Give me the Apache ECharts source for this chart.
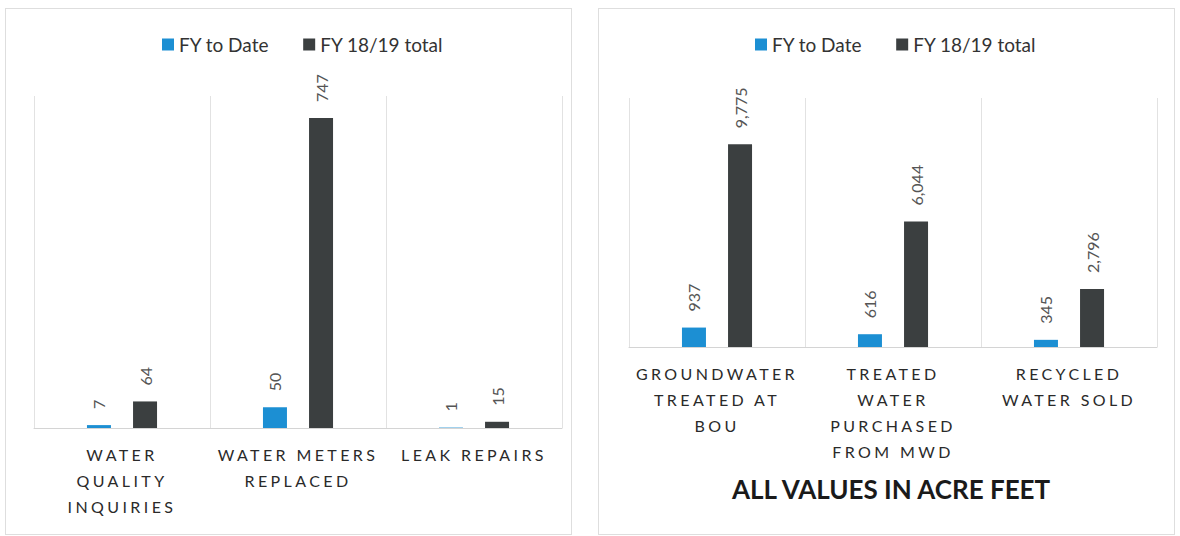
<!DOCTYPE html>
<html>
<head>
<meta charset="utf-8">
<script src="https://cdn.jsdelivr.net/npm/echarts@6/dist/echarts.min.js"></script>
<style>
  body { margin: 0; background: #fff; width: 1180px; height: 536px; position: relative; overflow: hidden; }
  .panel { position: absolute; border: 1px solid #dedede; box-sizing: border-box; }
  #left { left: 5px; top: 8px; width: 567px; height: 527px; }
  #right { left: 598px; top: 8px; width: 577px; height: 527px; }
  /* category labels are spaced out like the original */
  text[style*="DejaVu"] { letter-spacing: 3.4px; }
</style>
</head>
<body>
<div id="left" class="panel"></div>
<div id="right" class="panel"></div>
<script>
// data
var seriesNames = ['FY to Date', 'FY 18/19 total'];
var leftCats = ['WATER\nQUALITY\nINQUIRIES', 'WATER METERS\nREPLACED', 'LEAK REPAIRS'];
var leftToDate = [7, 50, 1];
var leftTotal = [64, 747, 15];
var rightCats = ['GROUNDWATER\nTREATED AT\nBOU', 'TREATED\nWATER\nPURCHASED\nFROM MWD', 'RECYCLED\nWATER SOLD'];
var rightToDate = [937, 616, 345];
var rightTotal = [9775, 6044, 2796];
var noteText = 'ALL VALUES IN ACRE FEET';

var blue = '#1c8fd3';
var dark = '#3b3f40';

function fmt(p) { return p.value.toLocaleString('en-US'); }

function makeOption(cats, a, b, max, grid) {
  var lbl = {
    show: true, position: 'top', rotate: 90, align: 'left', verticalAlign: 'middle',
    distance: 16, color: '#555', fontSize: 16, fontFamily: 'Lato, sans-serif',
    formatter: fmt
  };
  return {
    animation: false,
    legend: {
      data: seriesNames, top: 21, left: 151, itemWidth: 12, itemHeight: 12,
      itemGap: 34, icon: 'rect',
      textStyle: { fontSize: 19, color: '#333', fontFamily: 'Lato, sans-serif' }
    },
    grid: grid,
    xAxis: {
      type: 'category', data: cats,
      axisLine: { lineStyle: { color: '#d4d4d4' } },
      axisTick: { show: false },
      splitLine: { show: true, lineStyle: { color: '#e2e2e2' } },
      axisLabel: {
        interval: 0, color: '#2a2a2a', fontSize: 16, lineHeight: 26, margin: 13,
        fontFamily: 'Lato, "DejaVu Sans"'
      }
    },
    yAxis: { type: 'value', min: 0, max: max, show: false, splitLine: { show: false } },
    series: [
      { name: seriesNames[0], type: 'bar', data: a, barWidth: 24, barGap: '92%',
        itemStyle: { color: blue }, label: lbl },
      { name: seriesNames[1], type: 'bar', data: b, barWidth: 24,
        itemStyle: { color: dark }, label: lbl }
    ]
  };
}

var leftChart = echarts.init(document.getElementById('left'), null, { renderer: 'svg' });
leftChart.setOption(makeOption(leftCats, leftToDate, leftTotal, 800,
  { left: 28, right: 9, top: 87, bottom: 106 }));

var rightChart = echarts.init(document.getElementById('right'), null, { renderer: 'svg' });
var ro = makeOption(rightCats, rightToDate, rightTotal, 12000,
  { left: 30, right: 17, top: 89, bottom: 187 });
ro.title = {
  text: noteText, left: 128, top: 462,
  textStyle: { fontSize: 26, fontWeight: 'bold', color: '#1a1a1a', fontFamily: 'Lato, sans-serif' }
};
rightChart.setOption(ro);
</script>
</body>
</html>
